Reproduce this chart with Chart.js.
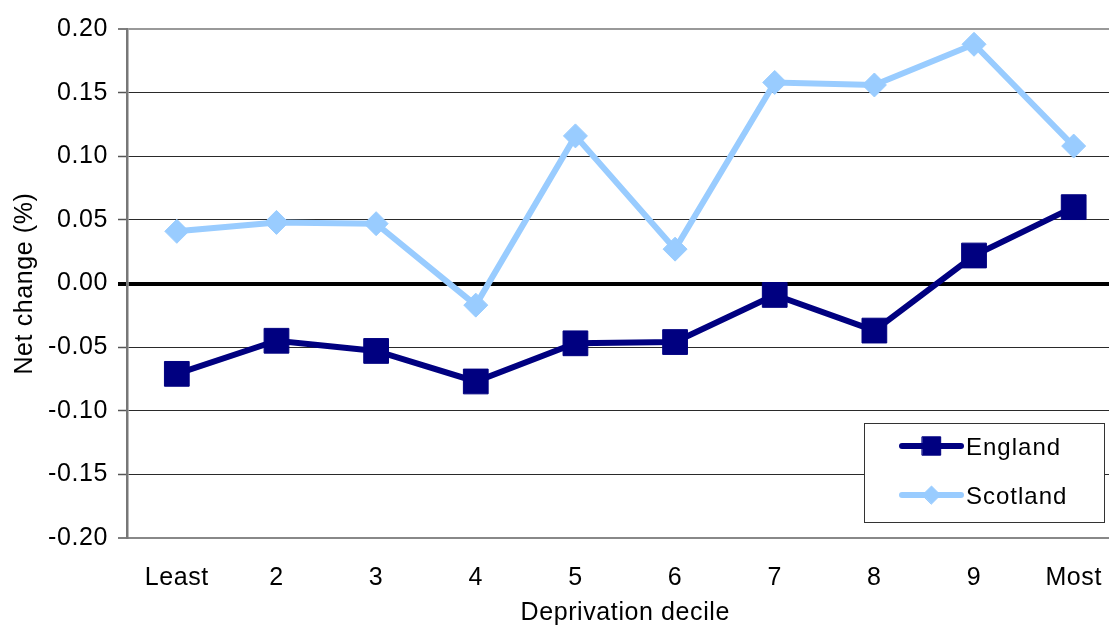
<!DOCTYPE html>
<html>
<head>
<meta charset="utf-8">
<script src="https://cdn.jsdelivr.net/npm/chart.js@4/dist/chart.umd.min.js"></script>
<style>
  html, body { margin: 0; padding: 0; background: #fff; overflow: hidden; }
  canvas { display: block; }
</style>
</head>
<body>
<canvas id="chart" width="1142" height="626"></canvas>
<script>
// Deprivation deciles, least to most deprived
const deciles = ['Least', '2', '3', '4', '5', '6', '7', '8', '9', 'Most'];

// Net change (%) by decile
const england  = [-0.071, -0.045, -0.053, -0.077, -0.047, -0.046, -0.009, -0.037, 0.022, 0.060];
const scotland = [0.041, 0.048, 0.047, -0.017, 0.116, 0.027, 0.158, 0.156, 0.188, 0.108];

// Value axis
const yMin = -0.20;
const yMax = 0.20;
const yStep = 0.05;

const FONT = 'Liberation Sans, Arial, sans-serif';
const FONT_SIZE = 25;
const SPACING = '0.6px';
const NAVY = '#000080';
const SKY = '#99CCFF';

const isZero = v => Math.abs(v) < 1e-9;
const isEdge = v => Math.abs(v - yMax) < 1e-9 || Math.abs(v - yMin) < 1e-9;

// Slightly wider text spacing for all labels
const spacingPlugin = {
  id: 'spacing',
  beforeUpdate(chart) { chart.ctx.letterSpacing = SPACING; },
  beforeDraw(chart) { chart.ctx.letterSpacing = SPACING; }
};

// Boxed legend sitting inside the lower right of the plot
const boxLegend = {
  id: 'boxLegend',
  afterDraw(chart) {
    const ctx = chart.ctx;
    const box = { x: 864.5, y: 423.5, w: 240, h: 99 };
    ctx.save();
    ctx.fillStyle = '#ffffff';
    ctx.fillRect(box.x, box.y, box.w, box.h);
    ctx.strokeStyle = '#333333';
    ctx.lineWidth = 1;
    ctx.strokeRect(box.x, box.y, box.w, box.h);

    const rows = [446, 495];
    chart.data.datasets.forEach((ds, i) => {
      const y = rows[i];
      ctx.strokeStyle = ds.borderColor;
      ctx.lineWidth = 6;
      ctx.lineCap = 'round';
      ctx.beginPath();
      ctx.moveTo(902, y);
      ctx.lineTo(961, y);
      ctx.stroke();

      ctx.fillStyle = ds.borderColor;
      ctx.strokeStyle = ds.borderColor;
      ctx.lineWidth = 1;
      Chart.helpers.drawPoint(ctx, {
        pointStyle: ds.pointStyle,
        radius: ds.pointStyle === 'rect' ? 13 : 9,
        borderWidth: 1,
        rotation: 0
      }, 931.5, y);

      ctx.fillStyle = '#000000';
      ctx.font = '24px ' + FONT;
      ctx.letterSpacing = '1px';
      ctx.textAlign = 'left';
      ctx.textBaseline = 'middle';
      ctx.fillText(ds.label, 966, y + 2);
    });
    ctx.restore();
  }
};

new Chart(document.getElementById('chart'), {
  type: 'line',
  data: {
    labels: deciles,
    datasets: [
      {
        label: 'England',
        data: england,
        borderColor: NAVY,
        backgroundColor: NAVY,
        borderWidth: 6,
        pointStyle: 'rect',
        pointRadius: 17.5,
        pointHoverRadius: 17.5,
        pointBorderWidth: 1,
        tension: 0
      },
      {
        label: 'Scotland',
        data: scotland,
        borderColor: SKY,
        backgroundColor: SKY,
        borderWidth: 6,
        pointStyle: 'rectRot',
        pointRadius: 12,
        pointHoverRadius: 12,
        pointBorderWidth: 1,
        tension: 0
      }
    ]
  },
  options: {
    responsive: false,
    devicePixelRatio: 1,
    animation: false,
    layout: { padding: { top: 29, left: 0, right: 0, bottom: 0 } },
    plugins: {
      legend: { display: false },
      tooltip: { enabled: false }
    },
    scales: {
      x: {
        type: 'category',
        offset: true,
        grid: { display: false },
        border: { display: true, color: '#888888', width: 2 },
        ticks: {
          color: '#000000',
          font: { family: FONT, size: FONT_SIZE },
          padding: 17,
          maxRotation: 0,
          autoSkip: false
        },
        title: {
          display: true,
          text: 'Deprivation decile',
          color: '#000000',
          font: { family: FONT, size: FONT_SIZE, lineHeight: 1.05 },
          padding: { top: 0, bottom: 0 }
        },
        afterFit(scale) { scale.height = 88; }
      },
      y: {
        min: yMin,
        max: yMax,
        border: { display: true, color: '#777777', width: 2.5 },
        grid: {
          drawTicks: true,
          tickLength: 9,
          color: c => isZero(c.tick.value) ? '#000000' : (isEdge(c.tick.value) ? '#999999' : '#2a2a2a'),
          lineWidth: c => isZero(c.tick.value) ? 4 : (isEdge(c.tick.value) ? 2 : 1),
          tickColor: c => isZero(c.tick.value) ? '#000000' : '#555555',
          tickWidth: c => isZero(c.tick.value) ? 4 : 1.5
        },
        ticks: {
          stepSize: yStep,
          color: '#000000',
          font: { family: FONT, size: FONT_SIZE },
          padding: 10,
          callback: v => (isZero(v) ? 0 : v).toFixed(2)
        },
        title: {
          display: true,
          text: 'Net change (%)',
          color: '#000000',
          font: { family: FONT, size: FONT_SIZE },
          padding: { top: 10, bottom: 0 }
        },
        afterFit(scale) { scale.width = 127; }
      }
    }
  },
  plugins: [spacingPlugin, boxLegend]
});
</script>
</body>
</html>
